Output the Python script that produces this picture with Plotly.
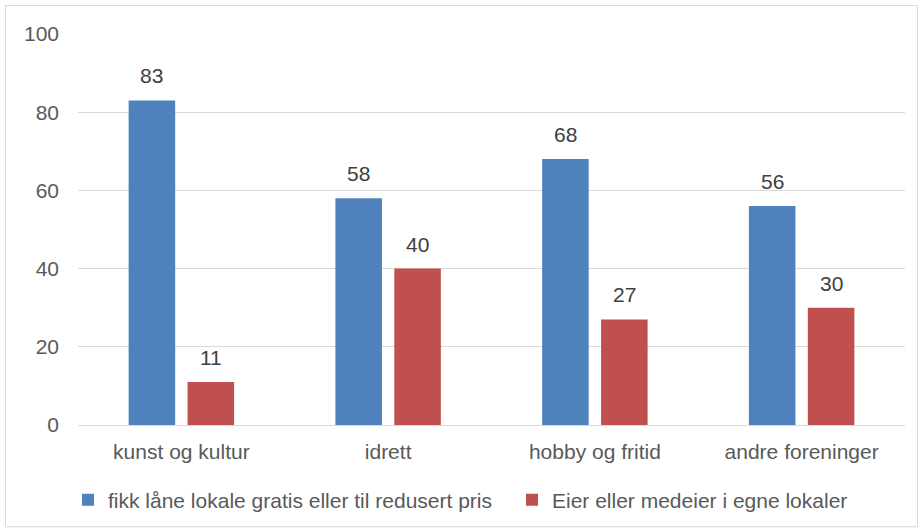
import plotly.graph_objects as go

categories = ["kunst og kultur", "idrett", "hobby og fritid", "andre foreninger"]
series_names = ["fikk låne lokale gratis eller til redusert pris",
                "Eier eller medeier i egne lokaler"]
values_blue = [83, 58, 68, 56]
values_red = [11, 40, 27, 30]
y_ticks = [0, 20, 40, 60, 80, 100]

BLUE = "#4F81BD"
RED = "#C0504D"
FONT = "Liberation Sans, Arial, sans-serif"
TXT = "#595959"
LBL = "#404040"
FS = 21

fig = go.Figure()
fig.add_trace(go.Bar(x=categories, y=values_blue, name=series_names[0], legend="legend",
                     marker=dict(color=BLUE, line=dict(width=0))))
fig.add_trace(go.Bar(x=categories, y=values_red, name=series_names[1], legend="legend2",
                     marker=dict(color=RED, line=dict(width=0))))

annotations = []
for vals, shift in ((values_blue, -29.5), (values_red, 29.5)):
    for c, v in zip(categories, vals):
        annotations.append(dict(x=c, y=v, xref="x", yref="y", text=str(v),
                                showarrow=False, xshift=shift, yanchor="bottom",
                                yshift=11, font=dict(family=FONT, size=FS, color=LBL)))

L, R, T, B = 78, 15, 34, 105
W, H = 920, 531
pw, ph = W - L - R, H - T - B

def px_x(p):
    return (p - L) / pw

def px_y(p):
    return (H - B - p) / ph

leg_common = dict(orientation="h", xanchor="left", y=px_y(500), yanchor="middle",
                  font=dict(family=FONT, size=FS, color=TXT), itemwidth=30,
                  bgcolor="rgba(0,0,0,0)")

fig.update_layout(
    width=W, height=H,
    margin=dict(l=L, r=R, t=T, b=B),
    paper_bgcolor="white", plot_bgcolor="white",
    font=dict(family=FONT, size=FS, color=TXT),
    barmode="group", bargap=0.43, bargroupgap=0.21,
    showlegend=True,
    legend=dict(x=px_x(68), **leg_common),
    legend2=dict(x=px_x(512), **leg_common),
    xaxis=dict(showgrid=False, showline=True, linecolor="#D9D9D9", linewidth=1,
               ticks="", tickfont=dict(family=FONT, size=FS, color=TXT),
               ticklabelstandoff=8),
    yaxis=dict(range=[0, 100], tickvals=y_ticks, showgrid=True, gridcolor="#D9D9D9",
               gridwidth=1, zeroline=False, showline=False, ticks="",
               tickfont=dict(family=FONT, size=FS, color=TXT), ticklabelstandoff=18),
    annotations=annotations,
    shapes=[dict(type="rect", xref="paper", yref="paper",
                 x0=px_x(5.5), x1=px_x(917.5), y0=px_y(528), y1=px_y(5.5),
                 line=dict(color="#D9D9D9", width=1), fillcolor="rgba(0,0,0,0)",
                 layer="below")],
)

fig.write_html("out.html", config={"displayModeBar": False},
               post_script="document.body.style.margin='0';document.body.style.padding='0';")
